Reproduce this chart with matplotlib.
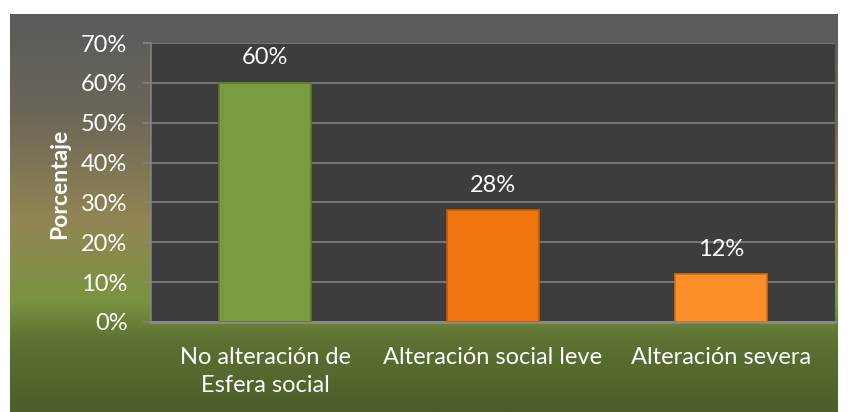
import numpy as np
import matplotlib.pyplot as plt
from matplotlib.colors import LinearSegmentedColormap
from matplotlib.ticker import PercentFormatter

# datos del grafico
categorias = ["No alteración de\nEsfera social", "Alteración social leve", "Alteración severa"]
porcentajes = [0.60, 0.28, 0.12]
colores = ["#7b9b40", "#ef760f", "#fd8f2a"]
bordes = ["#5f7a2c", "#c25c08", "#d06e18"]
ticks_y = [0, 0.1, 0.2, 0.3, 0.4, 0.5, 0.6, 0.7]

plt.rcParams['font.family'] = ['Lato', 'DejaVu Sans']

W, H = 848, 412
fig = plt.figure(figsize=(W / 100, H / 100), dpi=100)
fig.patch.set_facecolor("white")

# fondo degradado (gris arriba, verde abajo)
fondo = fig.add_axes([10 / W, 0, 828 / W, 398 / H])
fondo.set_axis_off()
cmap = LinearSegmentedColormap.from_list("fondo", [
    (0.0, "#5a5a5a"),
    (0.24, "#6a6658"),
    (0.52, "#928554"),
    (0.72, "#7a9440"),
    (0.82, "#5d7232"),
    (1.0, "#4d5e2a"),
])
grad = np.linspace(0, 1, 256).reshape(-1, 1)
fondo.imshow(grad, aspect="auto", cmap=cmap, extent=[0, 1, 0, 1])
fondo.set_xlim(0, 1)
fondo.set_ylim(0, 1)

# area del grafico
ax = fig.add_axes([151 / W, (H - 322) / H, (835 - 151) / W, (322 - 43) / H])
ax.set_facecolor("#3d3d3d")
x = np.arange(len(categorias))

ax.bar(x, porcentajes, width=0.4, color=colores, edgecolor=bordes, linewidth=1.2, zorder=3)

for xi, v in zip(x, porcentajes):
    ax.annotate(f"{v*100:.0f}%", (xi, v), xytext=(0, 18), textcoords="offset points",
                ha="center", va="center", color="white", fontsize=17)

ax.set_xlim(-0.5, 2.5)
ax.set_ylim(0, 0.7)
ax.set_yticks(ticks_y)
ax.yaxis.set_major_formatter(PercentFormatter(1.0, decimals=0))
ax.grid(axis="y", color="#858585", linewidth=1.1, zorder=1)
ax.set_axisbelow(True)

ax.set_xticks(x)
ax.set_xticklabels(categorias, color="white", fontsize=17, va="top", linespacing=1.4)
ax.tick_params(axis="x", length=0, pad=18)
ax.tick_params(axis="y", colors="#858585", labelcolor="white", labelsize=17,
               length=6, width=1.1, pad=11)

for s in ["top", "right"]:
    ax.spines[s].set_visible(False)
ax.spines["left"].set_color("#858585")
ax.spines["left"].set_linewidth(1.1)
ax.spines["bottom"].set_color("#8a8a8a")
ax.spines["bottom"].set_linewidth(2)

fig.text(60 / W, 1 - 184 / H, "Porcentaje", rotation=90, ha="center", va="center",
         color="white", fontsize=16.5, fontweight="bold")

fig.savefig("out.png", dpi=100)
